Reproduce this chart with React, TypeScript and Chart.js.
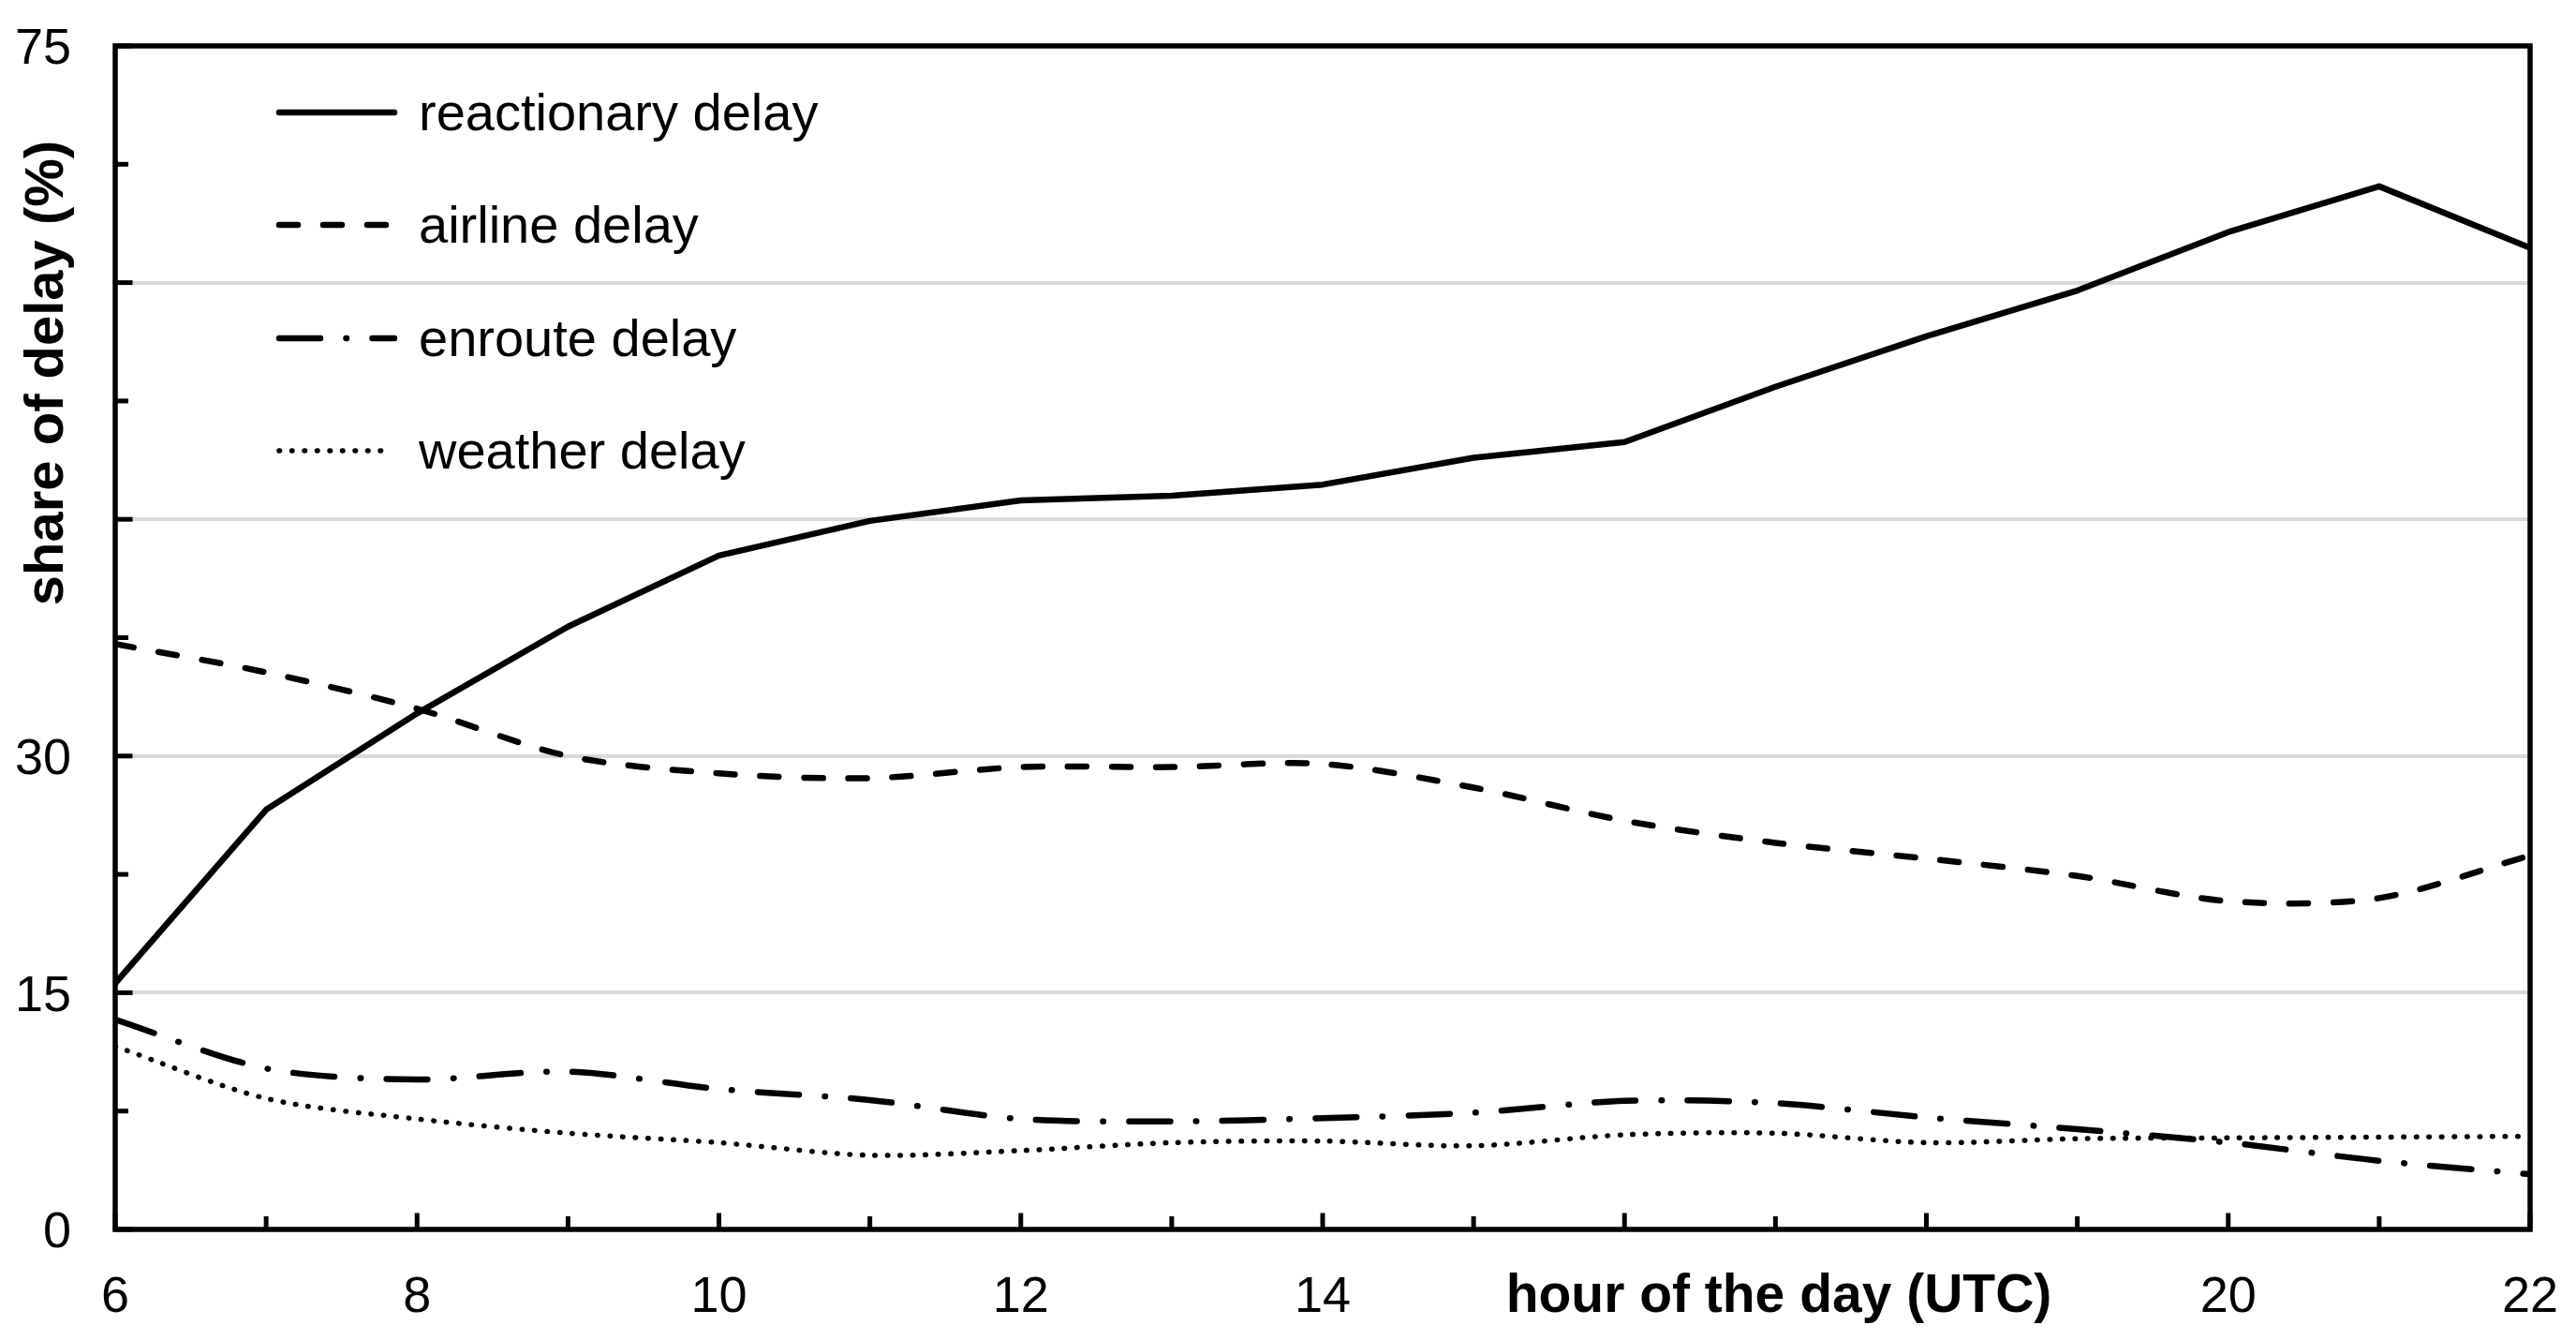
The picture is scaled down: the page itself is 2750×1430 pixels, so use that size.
import React, { useEffect, useRef } from 'react';
import { Chart, registerables } from 'chart.js';

Chart.register(...registerables);

// ---- data ----
const hours = [6, 7, 8, 9, 10, 11, 12, 13, 14, 15, 16, 17, 18, 19, 20, 21, 22];
const reactionaryDelay = [15.6, 26.6, 32.7, 38.2, 42.7, 44.9, 46.2, 46.5, 47.2, 48.9, 49.9, 53.4, 56.6, 59.5, 63.2, 66.1, 62.2];
const airlineDelay = [37.1, 35.3, 33.0, 30.0, 28.9, 28.6, 29.3, 29.3, 29.5, 28.0, 25.9, 24.5, 23.5, 22.4, 20.8, 21.0, 23.7];
const enrouteDelay = [13.3, 10.2, 9.5, 10.0, 8.9, 8.2, 7.0, 6.85, 7.05, 7.4, 8.15, 8.0, 7.1, 6.35, 5.5, 4.35, 3.5];
const weatherDelay = [11.6, 8.3, 7.0, 6.1, 5.5, 4.7, 5.0, 5.5, 5.6, 5.3, 6.0, 6.1, 5.5, 5.75, 5.8, 5.85, 5.9];
const seriesLabels = ['reactionary delay', 'airline delay', 'enroute delay', 'weather delay'];
const yTickLabelValues = [0, 15, 30, 75];
const xTickLabelValues = [6, 8, 10, 12, 14, 20, 22];
const yGridValues = [15, 30, 45, 60];
const yTitle = 'share of delay (%)';
const xTitle = 'hour of the day (UTC)';

// ---- styles ----
const FONT = '"Liberation Sans", Arial, Helvetica, sans-serif';
const seriesStyles = [
  { width: 6.5, dash: [] as number[], tension: 0 },
  { width: 6.5, dash: [20, 27], tension: 0.3 },
  { width: 6.5, dash: [44, 27.5, 0.5, 27.5], tension: 0.3 },
  { width: 5.5, dash: [0.5, 13], tension: 0.3 },
];
const legendRows = [120, 240, 361, 481];

const overlayPlugin = {
  id: 'overlay',
  afterDatasetsDraw(chart: any) {
    const { ctx, chartArea: a, scales } = chart;
    const xs = scales.x;
    const ys = scales.y;
    ctx.save();
    ctx.strokeStyle = '#000';
    ctx.lineWidth = 5;
    ctx.lineCap = 'butt';
    for (let v = 0; v <= 75.001; v += 7.5) {
      const py = ys.getPixelForValue(v);
      const len = Math.abs(v % 15) < 0.001 ? 18.5 : 14;
      ctx.beginPath();
      ctx.moveTo(a.left, py);
      ctx.lineTo(a.left + len, py);
      ctx.stroke();
    }
    for (let h = 6; h <= 22; h++) {
      const px = xs.getPixelForValue(h);
      const len = h % 2 === 0 ? 17.5 : 14;
      ctx.beginPath();
      ctx.moveTo(px, a.bottom);
      ctx.lineTo(px, a.bottom - len);
      ctx.stroke();
    }
    ctx.lineWidth = 5.5;
    ctx.lineJoin = 'miter';
    ctx.strokeRect(a.left, a.top, a.right - a.left, a.bottom - a.top);
    ctx.restore();
  },
  afterDraw(chart: any) {
    const { ctx, scales } = chart;
    const xs = scales.x;
    const ys = scales.y;
    ctx.save();
    ctx.fillStyle = '#000';
    // y tick labels
    ctx.font = `54px ${FONT}`;
    ctx.textAlign = 'right';
    ctx.textBaseline = 'alphabetic';
    for (const v of yTickLabelValues) {
      const py = ys.getPixelForValue(v);
      ctx.fillText(String(v), 76, py + 0.358 * 54);
    }
    // x tick labels
    ctx.textAlign = 'center';
    for (const h of xTickLabelValues) {
      const px = xs.getPixelForValue(h);
      ctx.fillText(String(h), px, 1400);
    }
    // x title
    ctx.font = `bold 57px ${FONT}`;
    ctx.textAlign = 'center';
    ctx.fillText(xTitle, 1899, 1400);
    // y title
    ctx.save();
    ctx.font = `bold 58px ${FONT}`;
    ctx.translate(51, 398);
    ctx.rotate(-Math.PI / 2);
    ctx.textAlign = 'center';
    ctx.textBaseline = 'middle';
    ctx.fillText(yTitle, 0, 0);
    ctx.restore();
    // legend
    ctx.font = `56px ${FONT}`;
    ctx.textAlign = 'left';
    ctx.textBaseline = 'alphabetic';
    seriesLabels.forEach((label, i) => {
      const st = seriesStyles[i];
      const ly = legendRows[i];
      ctx.save();
      ctx.strokeStyle = '#000';
      ctx.lineWidth = st.width;
      ctx.lineCap = 'round';
      ctx.setLineDash(st.dash);
      ctx.beginPath();
      ctx.moveTo(298, ly);
      ctx.lineTo(i === 3 ? 410 : 421, ly);
      ctx.stroke();
      ctx.restore();
      ctx.fillText(label, 447, ly + 19);
    });
    ctx.restore();
  },
};

export default function App() {
  const canvasRef = useRef<HTMLCanvasElement | null>(null);

  useEffect(() => {
    document.body.style.margin = '0';
    const canvas = canvasRef.current;
    if (!canvas) return;
    const seriesValues = [reactionaryDelay, airlineDelay, enrouteDelay, weatherDelay];
    const datasets = seriesValues.map((vals, i) => ({
      label: seriesLabels[i],
      data: hours.map((h, j) => ({ x: h, y: vals[j] })),
      borderColor: '#000',
      backgroundColor: '#000',
      borderWidth: seriesStyles[i].width,
      borderDash: seriesStyles[i].dash,
      borderCapStyle: 'round' as const,
      borderJoinStyle: 'round' as const,
      tension: seriesStyles[i].tension,
      pointRadius: 0,
      pointHoverRadius: 0,
      fill: false,
    }));

    const chart = new Chart(canvas, {
      type: 'line',
      data: { datasets },
      options: {
        responsive: false,
        animation: false,
        devicePixelRatio: 1,
        events: [],
        layout: { padding: { left: 123, right: 49, top: 49, bottom: 118 } },
        plugins: {
          legend: { display: false },
          tooltip: { enabled: false },
          title: { display: false },
        },
        scales: {
          x: {
            type: 'linear',
            min: 6,
            max: 22,
            ticks: { display: false, stepSize: 1 },
            grid: { display: false, drawTicks: false },
            border: { display: false },
            afterFit: (s: any) => { s.height = 0; },
          },
          y: {
            type: 'linear',
            min: 0,
            max: 75,
            ticks: { display: false, stepSize: 15 },
            grid: {
              drawTicks: false,
              lineWidth: 4,
              color: (c: any) => (yGridValues.includes(c.tick?.value) ? '#d9d9d9' : 'rgba(0,0,0,0)'),
            },
            border: { display: false },
            afterFit: (s: any) => { s.width = 0; },
          },
        },
      } as any,
      plugins: [overlayPlugin],
    });
    return () => chart.destroy();
  }, []);

  return (
    <div style={{ width: 2750, height: 1430, background: '#fff' }}>
      <canvas ref={canvasRef} width={2750} height={1430} style={{ display: 'block' }} />
    </div>
  );
}
